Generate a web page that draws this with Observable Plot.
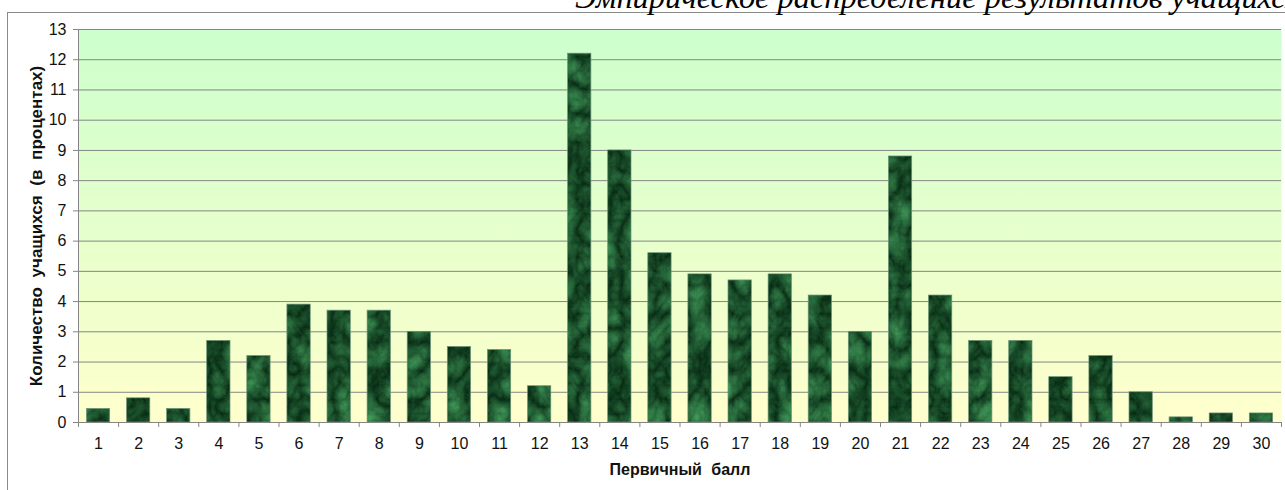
<!DOCTYPE html>
<html><head><meta charset="utf-8">
<script src="https://cdn.jsdelivr.net/npm/d3@7"></script>
<script src="https://cdn.jsdelivr.net/npm/@observablehq/plot@0.6"></script>
<style>
body{margin:0;background:#fff;overflow:hidden}
#wrap{position:relative;width:1285px;height:490px;overflow:hidden;background:#fff}
#title{position:absolute;left:575px;top:-18px;white-space:nowrap;font:italic 32.4px "Liberation Serif",serif;color:#000;line-height:30px}
#border{position:absolute;left:7px;top:12px;width:1300px;height:520px;border:1px solid #8a8a8a;box-sizing:border-box}
#chart{position:absolute;left:0;top:0}
</style></head><body>
<div id="wrap"><div id="border"></div><div id="chart"></div><div id="title">Эмпирическое распределение результатов учащихся</div></div>
<script>
const scores = [1,2,3,4,5,6,7,8,9,10,11,12,13,14,15,16,17,18,19,20,21,22,23,24,25,26,27,28,29,30];
const values = [0.45,0.8,0.45,2.7,2.2,3.9,3.7,3.7,3.0,2.5,2.4,1.2,12.2,9.0,5.6,4.9,4.7,4.9,4.2,3.0,8.8,4.2,2.7,2.7,1.5,2.2,1.0,0.17,0.3,0.3];
const yTicks = [0,1,2,3,4,5,6,7,8,9,10,11,12,13];
const yTitle = "Количество учащихся (в процентах)";
const xTitle = "Первичный балл";

const data = scores.map((s, i) => ({score: s, value: values[i]}));
const boundaries = scores.map(s => s - 0.5).concat([scores[scores.length - 1] + 0.5]);

const defs = () => {
  const ns = "http://www.w3.org/2000/svg";
  const g = document.createElementNS(ns, "defs");
  g.innerHTML = `
  <linearGradient id="bg" x1="0" y1="0" x2="0" y2="1">
    <stop offset="0" stop-color="#ccffcc"/>
    <stop offset="1" stop-color="#ffffcc"/>
  </linearGradient>
  <filter id="mf" filterUnits="userSpaceOnUse" x="0" y="0" width="1285" height="490" color-interpolation-filters="sRGB">
    <feTurbulence type="turbulence" baseFrequency="0.045 0.035" numOctaves="4" seed="11"/>
    <feColorMatrix type="matrix" values="0.26 0 0 0 0.02  0.5 0 0 0 0.15  0.32 0 0 0 0.065  0 0 0 0 1"/>
  </filter>
  <pattern id="marble" patternUnits="userSpaceOnUse" x="0" y="0" width="1285" height="490">
    <rect width="1285" height="490" filter="url(#mf)"/>
  </pattern>`;
  return g;
};

const chart = Plot.plot({
  width: 1285,
  height: 490,
  marginLeft: 78,
  marginRight: 4,
  marginTop: 29,
  marginBottom: 68,
  style: {fontFamily: "'Liberation Sans', Arial, sans-serif", fontSize: "16px", color: "#111", background: "transparent"},
  x: {type: "linear", domain: [0.5, 30.5]},
  y: {domain: [0, 13]},
  marks: [
    defs,
    Plot.frame({fill: "url(#bg)", stroke: null}),
    Plot.ruleY(yTicks.slice(1), {stroke: "#858585", strokeWidth: 1}),
    Plot.rectY(data, {x1: d => d.score - 0.5, x2: d => d.score + 0.5, y: "value", insetLeft: 8.4, insetRight: 8.4, fill: "url(#marble)", stroke: "#6f947a", strokeWidth: 0.7}),
    Plot.ruleX([0.5], {y1: 0, y2: 13, stroke: "#858585"}),
    Plot.ruleY([0], {stroke: "#858585"}),
    Plot.axisY({ticks: yTicks, tickSize: 5, tickPadding: 7, stroke: "#858585", fill: "#111", fontSize: 16, label: null}),
    Plot.axisX({ticks: boundaries, tickSize: 5, tickFormat: () => "", stroke: "#858585", label: null}),
    Plot.axisX({ticks: scores, tickSize: 0, tickPadding: 15, fill: "#111", fontSize: 16, label: null}),
    Plot.text([yTitle], {text: d => d, frameAnchor: "left", dx: -42, rotate: -90, textAnchor: "middle", lineAnchor: "middle", fontSize: 17, fontWeight: "bold", fill: "#111"}),
    Plot.text([xTitle], {text: d => d, frameAnchor: "bottom", dy: 47, textAnchor: "middle", lineAnchor: "middle", fontSize: 16, fontWeight: "bold", fill: "#111"})
  ]
});
const textGroups = chart.querySelectorAll('g[aria-label="text"]');
if (textGroups[0]) textGroups[0].style.wordSpacing = "5px";
if (textGroups[1]) textGroups[1].style.wordSpacing = "5px";
document.getElementById("chart").append(chart);
</script>
</body></html>
